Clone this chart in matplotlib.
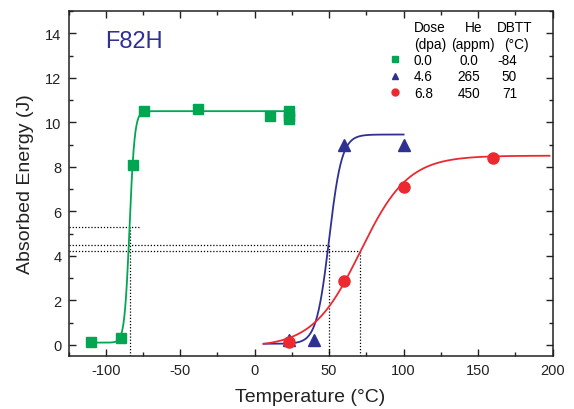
import numpy as np
import matplotlib
matplotlib.use("Agg")
import matplotlib.pyplot as plt
from matplotlib.ticker import MultipleLocator

plt.rcParams['font.family'] = ['Liberation Sans', 'DejaVu Sans']
plt.rcParams['axes.unicode_minus'] = False

# ---- measured Charpy data ----
green_T = [-110, -90, -82, -74, -38, 10, 23, 23, 23]
green_E = [0.15, 0.3, 8.1, 10.5, 10.6, 10.3, 10.5, 10.3, 10.15]
blue_T = [23, 40, 60, 100]
blue_E = [0.2, 0.2, 9.0, 9.0]
red_T = [23, 60, 100, 160]
red_E = [0.15, 2.85, 7.1, 8.4]

# tanh fit parameters: lower shelf, upper shelf, centre, width, fit range
fit_lower = [0.1, 0.05, -0.1]
fit_upper = [10.5, 9.45, 8.5]
fit_center = [-84, 50, 71]
fit_width = [3.4, 8.5, 32]
fit_start = [-110, 6, 6]
fit_end = [23, 100, 198]

# DBTT marks: temperature and energy level
dbtt = [-84, 50, 71]
dbtt_E = [5.3, 4.5, 4.2]
dbtt_hline_end = [-77, 50, 71]

# legend table
dose = ['0.0', '4.6', '6.8']
he = ['0.0', '265', '450']
dbtt_txt = ['-84', '50', '71']

colors = ['#00a651', '#2e3192', '#ed2930']
markers = ['s', '^', 'o']
msizes = [7.5, 8.8, 8.0]

fig = plt.figure(figsize=(5.74, 4.10), dpi=100)
ax = fig.add_axes([68.5 / 574, 1 - 357 / 410, 484 / 574, 345 / 410])


def tanh_fit(T, lo, hi, t0, c):
    return lo + (hi - lo) / 2 * (1 + np.tanh((T - t0) / c))


# dotted DBTT guide lines
for t, e, xe in zip(dbtt, dbtt_E, dbtt_hline_end):
    ax.plot([-125, xe], [e, e], color='black', ls=(0, (1, 1.5)), lw=0.9)
    ax.plot([t, t], [-0.5, e], color='black', ls=(0, (1, 1.5)), lw=0.9)

series = [(green_T, green_E), (blue_T, blue_E), (red_T, red_E)]
for i, (T, E) in enumerate(series):
    Tf = np.linspace(fit_start[i], fit_end[i], 400)
    ax.plot(Tf, tanh_fit(Tf, fit_lower[i], fit_upper[i], fit_center[i], fit_width[i]),
            color=colors[i], lw=1.3, zorder=3)
    ax.plot(T, E, ls='none', marker=markers[i], ms=msizes[i], color=colors[i],
            mec=colors[i], zorder=4)

ax.set_xlim(-125, 200)
ax.set_ylim(-0.5, 15)
ax.xaxis.set_major_locator(MultipleLocator(50))
ax.xaxis.set_minor_locator(MultipleLocator(25))
ax.yaxis.set_major_locator(MultipleLocator(2))
ax.yaxis.set_minor_locator(MultipleLocator(1))
ax.tick_params(which='both', direction='in', top=True, right=True, labelsize=10.5,
               width=1.0, pad=5, colors='#222222')
ax.tick_params(which='major', length=5)
ax.tick_params(which='minor', length=3)
for s in ax.spines.values():
    s.set_linewidth(1.1)
    s.set_color('#222222')

ax.set_xlabel('Temperature (°C)', fontsize=14, color='#222222', labelpad=8)
ax.set_ylabel('Absorbed Energy (J)', fontsize=14, color='#222222', labelpad=8)

ax.text(0.0754, 0.8965, 'F82H', transform=ax.transAxes, fontsize=17,
        color='#2e3192', va='baseline', ha='left')

# legend table
tf = ax.transAxes
fs = 9.8
ax.text(0.7138, 0.9406, 'Dose', transform=tf, fontsize=fs, va='baseline')
ax.text(0.7138, 0.8942, '(dpa)', transform=tf, fontsize=fs, va='baseline')
ax.text(0.8368, 0.9406, 'He', transform=tf, fontsize=fs, va='baseline', ha='center')
ax.text(0.8357, 0.8942, '(appm)', transform=tf, fontsize=fs, va='baseline', ha='center')
ax.text(0.9225, 0.9406, 'DBTT', transform=tf, fontsize=fs, va='baseline', ha='center')
ax.text(0.9246, 0.8942, '(°C)', transform=tf, fontsize=fs, va='baseline', ha='center')
row_base = [0.8464, 0.7986, 0.7513]
row_mark = [0.8609, 0.8130, 0.7652]
for i in range(3):
    ax.plot([0.6746], [row_mark[i]], transform=tf, marker=markers[i], ms=5,
            color=colors[i], ls='none', clip_on=False)
    ax.text(0.7138, row_base[i], dose[i], transform=tf, fontsize=fs, va='baseline')
    ax.text(0.8275, row_base[i], he[i], transform=tf, fontsize=fs, va='baseline', ha='center')
    ax.text(0.9267, row_base[i], dbtt_txt[i], transform=tf, fontsize=fs, va='baseline', ha='right')

fig.savefig('out.png', dpi=100)
